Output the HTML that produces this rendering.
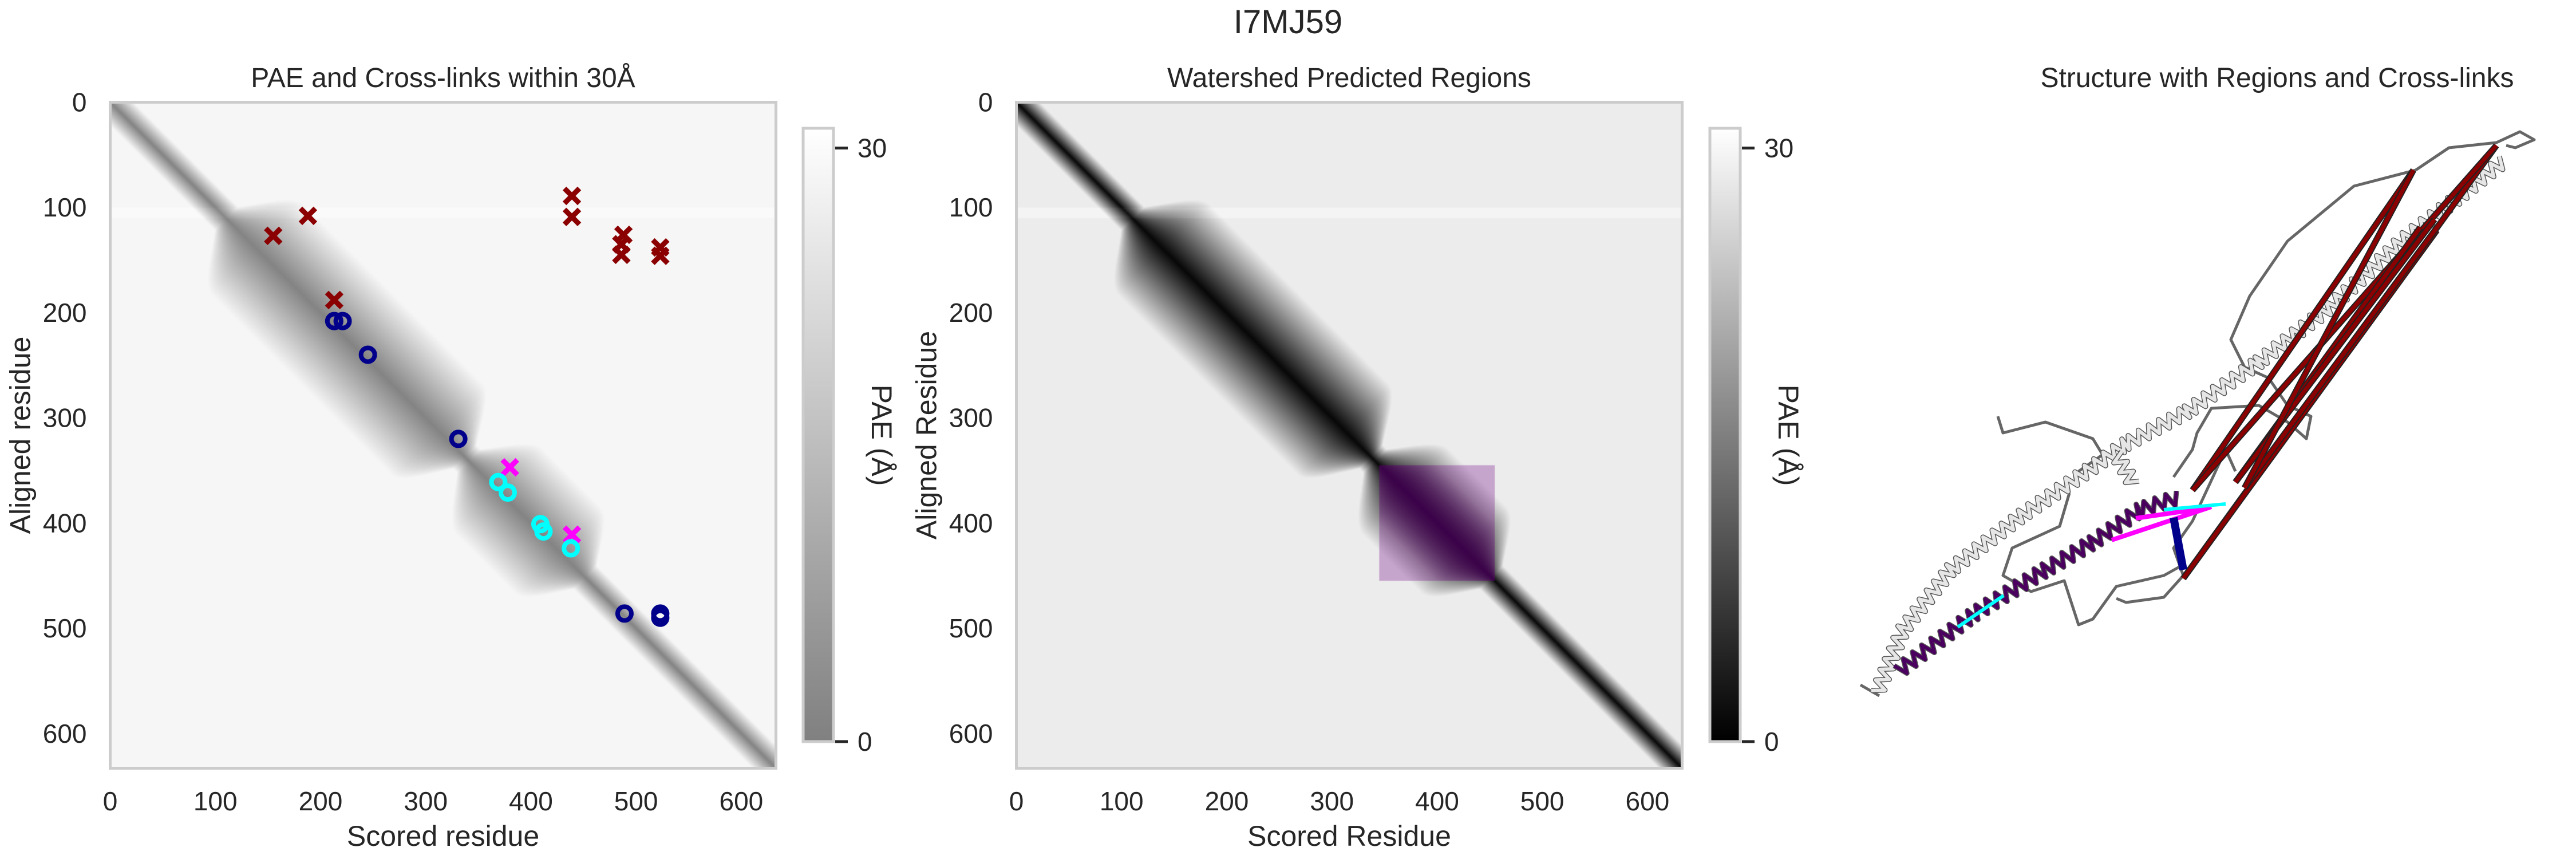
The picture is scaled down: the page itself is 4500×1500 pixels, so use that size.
<!DOCTYPE html>
<html><head><meta charset="utf-8"><style>
html,body{margin:0;padding:0;background:#fff;}
#root{position:relative;width:4500px;height:1500px;overflow:hidden;background:#fff;font-family:"Liberation Sans",sans-serif;}
canvas{position:absolute;}
svg{position:absolute;left:0;top:0;}
</style></head><body>
<div id="root">
<canvas id="hm1" width="633" height="633" style="left:193px;top:179px;width:1162px;height:1162px"></canvas>
<canvas id="hm2" width="633" height="633" style="left:1776px;top:179px;width:1162px;height:1162px"></canvas>
<svg id="svg" width="4500" height="1500" xmlns="http://www.w3.org/2000/svg">
<defs>
<linearGradient id="cb1" x1="0" y1="1" x2="0" y2="0"><stop offset="0" stop-color="#808080"/><stop offset="1" stop-color="#ffffff"/></linearGradient>
<linearGradient id="cb2" x1="0" y1="1" x2="0" y2="0"><stop offset="0" stop-color="#000"/><stop offset="1" stop-color="#fff"/></linearGradient>
</defs>
<text x="2250" y="58" font-size="58" text-anchor="middle" fill="#262626">I7MJ59</text>
<g id="p1"></g>
<g id="p2"></g>
<g id="p3"></g>
</svg>
</div>
<script>
// ---- data ----
const nRes = 633;
const xTicks = [0,100,200,300,400,500,600];
const yTicks = [0,100,200,300,400,500,600];
const cbTicks = [0,30];
const paeMax = 31;
const domainStarts = [110, 340];
const domainEnds = [340, 455];
const domainSlopes = [0.32, 0.34];
const regionStart = [345];
const regionEnd = [455];
const redX_x = [155,188,439,439,488,486,486,523,523,213];
const redX_y = [127,108,89,109,126,135,145,138,146,188];
const magX_x = [380,439];
const magX_y = [347,411];
const navyO_x = [213,221,245,331,489,523,523];
const navyO_y = [208,208,240,320,486,486,490];
const cyanO_x = [369,378,409,412,438];
const cyanO_y = [361,371,401,408,424];

const NS="http://www.w3.org/2000/svg";
function el(tag, attrs, parent, txt){const e=document.createElementNS(NS,tag);for(const k in attrs)e.setAttribute(k,attrs[k]);if(txt!==undefined)e.textContent=txt;parent.appendChild(e);return e;}

// ---- heatmap model ----
function sstep(a,b,x){const t=Math.max(0,Math.min(1,(x-a)/(b-a)));return t*t*(3-2*t);}
function pae(i,j){
  const d=Math.abs(i-j), m=(i+j)/2;
  let inv=0.8;
  for(let k=0;k<domainStarts.length;k++){
    const w=sstep(domainStarts[k]-15,domainStarts[k]+30,m)*(1-sstep(domainEnds[k]-30,domainEnds[k]+10,m));
    inv=Math.max(inv, w/domainSlopes[k]);
  }
  let v=Math.min(28.7, 1+d/inv);
  if(i>=100&&i<110) v=Math.min(v+1,30);
  return v;
}
function drawHeat(id, mode){
  const c=document.getElementById(id).getContext('2d');
  const img=c.createImageData(nRes,nRes);
  for(let i=0;i<nRes;i++)for(let j=0;j<nRes;j++){
    const v=Math.max(0,Math.min(paeMax,pae(i,j)));
    let g= mode===1 ? 128+v/paeMax*127 : v/paeMax*255;
    let r=g,gg=g,b=g;
    if(mode===2 && i>=regionStart[0]&&i<regionEnd[0]&&j>=regionStart[0]&&j<regionEnd[0]){
      const a=0.3; r=r*(1-a)+110*a; gg=gg*(1-a); b=b*(1-a)+130*a;
      const w=Math.max(0,1-v/20)*0.6; r=r*(1-w)+75*w; gg=gg*(1-w); b=b*(1-w)+95*w;
    }
    const p=(i*nRes+j)*4; img.data[p]=r;img.data[p+1]=gg;img.data[p+2]=b;img.data[p+3]=255;
  }
  c.putImageData(img,0,0);
}
drawHeat('hm1',1); drawHeat('hm2',2);

// ---- axes ----
function panel(g, x0, title, xl, yl, grad, cbx){
  const y0=178.5, S=1163;
  const sx=v=>x0+v/nRes*S, sy=v=>y0+v/nRes*S;
  const t=el('text',{x:x0+S/2,y:152,'font-size':48,'text-anchor':'middle',fill:'#262626'},g,title);
   
  const fr=el('rect',{x:x0,y:y0,width:S,height:S,fill:'none',stroke:'#cccccc','stroke-width':5},g);
   
  xTicks.forEach(v=>{const e=el('text',{x:sx(v),y:1415,'font-size':46,'text-anchor':'middle',fill:'#262626'},g,String(v));
     });
  yTicks.forEach(v=>{const e=el('text',{x:x0-41,y:sy(v)+16,'font-size':46,'text-anchor':'end',fill:'#262626'},g,String(v));
     });
  const xt=el('text',{x:x0+S/2,y:1477,'font-size':50,'text-anchor':'middle',fill:'#262626'},g,xl);
   
  const yt=el('text',{x:0,y:0,'font-size':50,'text-anchor':'middle',fill:'#262626',transform:`translate(${x0-140},760) rotate(-90)`},g,yl);
   
  const cy0=224, cy1=1295, cby=v=>cy1-(v/paeMax)*(cy1-cy0);
  const cb=el('rect',{x:cbx,y:cy0,width:53,height:cy1-cy0,fill:`url(#${grad})`,stroke:'#cccccc','stroke-width':5},g);
   
  cbTicks.forEach(v=>{
    el('line',{x1:cbx+56,x2:cbx+78,y1:cby(v),y2:cby(v),stroke:'#262626','stroke-width':5},g);
    const e=el('text',{x:cbx+95,y:cby(v)+16,'font-size':46,fill:'#262626'},g,String(v));
     
  });
  const cl=el('text',{x:0,y:0,'font-size':50,'text-anchor':'middle',fill:'#262626',transform:`translate(${cbx+120},760) rotate(90)`},g,'PAE (Å)');
   
  return {sx,sy};
}
const g1=document.getElementById('p1'), g2=document.getElementById('p2'), g3=document.getElementById('p3');
const a1=panel(g1,192.5,'PAE and Cross-links within 30Å','Scored residue','Aligned residue','cb1',1403);
panel(g2,1775.5,'Watershed Predicted Regions','Scored Residue','Aligned Residue','cb2',2987);

function xmark(xs,ys,color,name){
  xs.forEach((x,i)=>{const cx=a1.sx(x), cy=a1.sy(ys[i]), r=13;
    const p=el('path',{d:`M${cx-r},${cy-r}L${cx+r},${cy+r}M${cx-r},${cy+r}L${cx+r},${cy-r}`,stroke:color,'stroke-width':9,fill:'none'},g1);
     });
}
function omark(xs,ys,color,name){
  xs.forEach((x,i)=>{const c=el('circle',{cx:a1.sx(x),cy:a1.sy(ys[i]),r:12,stroke:color,'stroke-width':8,fill:'none'},g1);
     });
}
xmark(redX_x,redX_y,'#8b0000','crosslink-violated');
xmark(magX_x,magX_y,'#ff00ff','crosslink-violated-region');
omark(navyO_x,navyO_y,'#00008b','crosslink-satisfied');
omark(cyanO_x,cyanO_y,'#00ffff','crosslink-satisfied-region');

// ---- structure panel ----
const st=el('text',{x:3978,y:152,'font-size':48,'text-anchor':'middle',fill:'#262626'},g3,'Structure with Regions and Cross-links');
 
function pts(a){return a.map(p=>p.join(',')).join(' ');}
function loop(a){const p=el('polyline',{points:pts(a),fill:'none',stroke:'#666','stroke-width':5,'stroke-linejoin':'round'},g3);
   }
function helix(a,color,amp){
  let out=[];let k=0;
  for(let s=0;s<a.length-1;s++){
    const [x1,y1]=a[s],[x2,y2]=a[s+1];const L=Math.hypot(x2-x1,y2-y1);const nx=-(y2-y1)/L,ny=(x2-x1)/L;
    for(let t=0;t<L;t+=10){const f=t/L;const o=(k++%2?amp:-amp);out.push([x1+(x2-x1)*f+nx*o,y1+(y2-y1)*f+ny*o]);}
  }
  const p=el('polyline',{points:pts(out),fill:'none',stroke:'#555','stroke-width':9,'stroke-linejoin':'round'},g3);
   
  const q=el('polyline',{points:pts(out),fill:'none',stroke:color,'stroke-width':6,'stroke-linejoin':'round'},g3);
   
}
loop([[4220,297],[4112,325],[3996,421],[3930,517],[3897,593],[3921,641],[3963,660],[3996,708],[4037,727],[4029,766],[3996,737],[3946,708],[3863,713],[3838,756],[3830,785],[3797,833]]);
loop([[4220,297],[4278,258],[4361,249],[4402,230],[4427,244],[4394,258],[4378,254]]);
loop([[3490,727],[3499,756],[3573,737],[3656,766],[3673,794],[3631,823]]);
loop([[3615,861],[3598,919],[3515,957],[3499,1005],[3548,1033],[3606,1014],[3631,1091],[3656,1081],[3697,1024],[3780,1005],[3814,986]]);
loop([[3697,1045],[3714,1052],[3780,1043],[3814,1005],[3797,957],[3830,910],[3888,785],[3905,823]]);
loop([[3250,1196],[3283,1215]]);
helix([[3279,1210],[3324,1100],[3407,995],[3532,900],[3631,833],[3714,775],[3822,718],[3946,632],[4071,536],[4195,421],[4295,344],[4377,278]],'#e6e6e6',11);
helix([[3697,794],[3731,852]],'#e6e6e6',11);
helix([[3316,1172],[3449,1072],[3573,995],[3656,947],[3739,890],[3814,866]],'#4b0060',12);
const cy=el('polyline',{points:pts([[3420,1095],[3500,1040]]),stroke:'#00ffff','stroke-width':6,fill:'none'},g3);
 
const links=[[[3814,1010],[4361,254]],[[3814,1010],[4257,402]],[[3830,856],[4216,297]],[[3830,856],[4361,254]],[[3905,842],[4228,397]],[[3905,842],[4253,383]],[[3921,852],[4261,392]],[[3921,852],[4216,297]]];
links.forEach(l=>{
  el('line',{x1:l[0][0],y1:l[0][1],x2:l[1][0],y2:l[1][1],stroke:'#222','stroke-width':11},g3);
  const e=el('line',{x1:l[0][0],y1:l[0][1],x2:l[1][0],y2:l[1][1],stroke:'#8b0000','stroke-width':7},g3);
   
});
[[[3689,943],[3863,885]],[[3731,905],[3855,887]]].forEach(l=>{
  const e=el('line',{x1:l[0][0],y1:l[0][1],x2:l[1][0],y2:l[1][1],stroke:'#ff00ff','stroke-width':8},g3);
   });
const cl2=el('line',{x1:3780,y1:890,x2:3888,y2:880,stroke:'#00ffff','stroke-width':6},g3);
 
const nv=el('line',{x1:3797,y1:904,x2:3814,y2:995,stroke:'#00008b','stroke-width':14},g3);
 
</script>
</body></html>
